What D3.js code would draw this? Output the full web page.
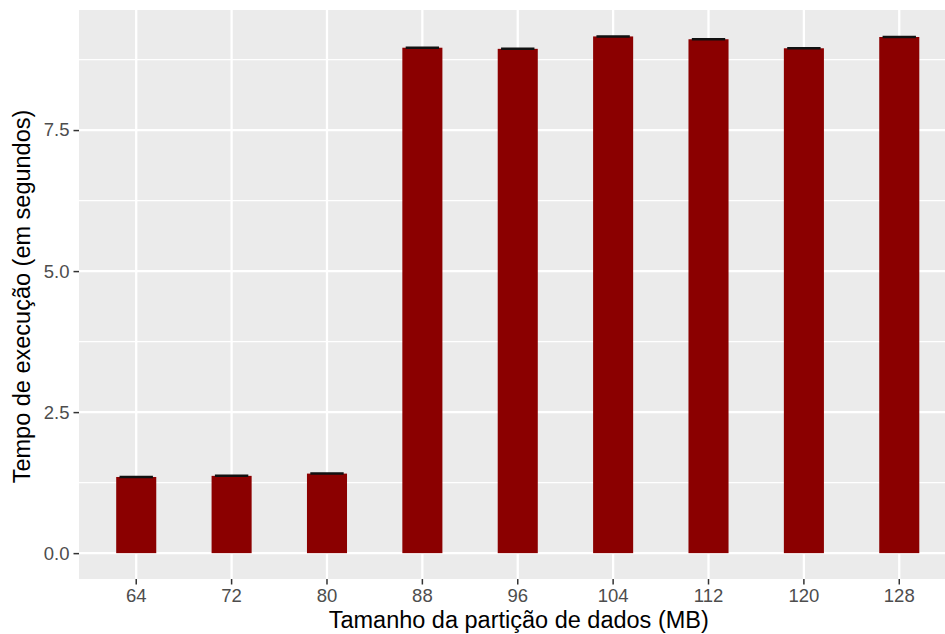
<!doctype html>
<html>
<head>
<meta charset="utf-8">
<script src="https://cdnjs.cloudflare.com/ajax/libs/d3/7.8.5/d3.min.js"></script>
<style>
  body { margin: 0; background: #fff; }
  text { font-family: "Liberation Sans", Arial, sans-serif; }
</style>
</head>
<body>
<svg id="chart" width="945" height="634"></svg>
<script>
var particoes = ["64", "72", "80", "88", "96", "104", "112", "120", "128"];
var tempos = [1.35, 1.37, 1.41, 8.96, 8.94, 9.16, 9.11, 8.95, 9.15];
var desvios = [0.01, 0.01, 0.01, 0.01, 0.01, 0.01, 0.01, 0.01, 0.01];
var yTicks = [0, 2.5, 5, 7.5];
var yMinor = [1.25, 3.75, 6.25, 8.75];

var svg = d3.select("#chart");
var pLeft = 79, pTop = 10, pRight = 956.5, pBottom = 579;

var dados = particoes.map((p, i) => ({p: p, m: tempos[i], sd: desvios[i]}));

var ymax = d3.max(dados, d => d.m + d.sd);
var y = d3.scaleLinear()
  .domain([-0.05 * ymax, 1.05 * ymax])
  .range([pBottom, pTop]);

var x = d3.scaleBand()
  .domain(particoes)
  .range([pLeft, pRight])
  .paddingInner(0)
  .paddingOuter(0.1);

var cx = d => x(d) + x.bandwidth() / 2;

// painel
svg.append("rect")
  .attr("x", pLeft).attr("y", pTop)
  .attr("width", pRight - pLeft).attr("height", pBottom - pTop)
  .attr("fill", "#ebebeb");

svg.selectAll("line.minor")
  .data(yMinor).enter().append("line")
  .attr("x1", pLeft).attr("x2", pRight)
  .attr("y1", d => y(d)).attr("y2", d => y(d))
  .attr("stroke", "#fff").attr("stroke-width", 1.2);

svg.selectAll("line.majory")
  .data(yTicks).enter().append("line")
  .attr("x1", pLeft).attr("x2", pRight)
  .attr("y1", d => y(d)).attr("y2", d => y(d))
  .attr("stroke", "#fff").attr("stroke-width", 2.3);

svg.selectAll("line.majorx")
  .data(particoes).enter().append("line")
  .attr("x1", d => cx(d)).attr("x2", d => cx(d))
  .attr("y1", pTop).attr("y2", pBottom)
  .attr("stroke", "#fff").attr("stroke-width", 2.3);

// barras
var bw = x.bandwidth() * 0.42;
svg.selectAll("rect.bar")
  .data(dados).enter().append("rect")
  .attr("x", d => cx(d.p) - bw / 2)
  .attr("width", bw)
  .attr("y", d => y(d.m))
  .attr("height", d => y(0) - y(d.m))
  .attr("fill", "#8b0000");

// barras de erro
var ew = x.bandwidth() * 0.35;
svg.selectAll("path.err")
  .data(dados).enter().append("path")
  .attr("d", d => {
    var a = cx(d.p) - ew / 2, b = cx(d.p) + ew / 2;
    var t = y(d.m + d.sd), u = y(d.m - d.sd);
    return "M" + a + "," + t + "H" + b + "M" + cx(d.p) + "," + t + "V" + u + "M" + a + "," + u + "H" + b;
  })
  .attr("fill", "none").attr("stroke", "#111").attr("stroke-width", 1.4);

// eixos
var yAxis = svg.append("g").attr("transform", "translate(" + pLeft + ",0)")
  .call(d3.axisLeft(y).tickValues(yTicks).tickFormat(d3.format(".1f")).tickSize(5.5).tickPadding(4));
var xAxis = svg.append("g").attr("transform", "translate(0," + pBottom + ")")
  .call(d3.axisBottom(x).tickSize(5.5).tickPadding(4));

[yAxis, xAxis].forEach(g => {
  g.select(".domain").remove();
  g.selectAll(".tick line").attr("stroke", "#333").attr("stroke-width", 1.5);
  g.selectAll(".tick text").attr("fill", "#4d4d4d").style("font-size", "18.5px")
    .style("font-family", "'Liberation Sans', Arial, sans-serif");
});

svg.append("text")
  .attr("x", (pLeft + pRight) / 2 + 1).attr("y", 628)
  .attr("text-anchor", "middle")
  .style("font-size", "23.5px")
  .text("Tamanho da partição de dados (MB)");

svg.append("text")
  .attr("transform", "translate(30," + ((pTop + pBottom) / 2 + 2) + ") rotate(-90)")
  .attr("text-anchor", "middle")
  .style("font-size", "23.5px")
  .text("Tempo de execução (em segundos)");
</script>
</body>
</html>
